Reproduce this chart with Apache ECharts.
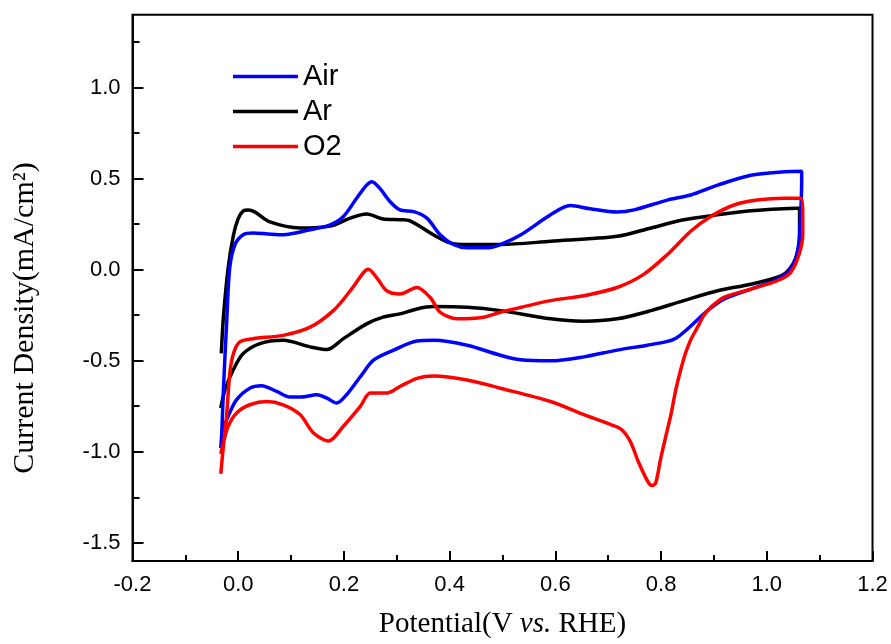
<!DOCTYPE html>
<html>
<head>
<meta charset="utf-8">
<script src="https://cdn.jsdelivr.net/npm/echarts@6/dist/echarts.min.js"></script>
<style>
html,body{margin:0;padding:0;background:#fff;}
#chart{width:891px;height:644px;}
</style>
</head>
<body>
<div id="chart"></div>
<script>
// ---- Data (Potential V vs. RHE, Current density mA/cm2), in scan order ----
const seriesNames = ['Air', 'Ar', 'O2'];

const arPotential = [-0.032,-0.028,-0.019,-0.009,0.000,0.0095,0.019,0.032,0.060,0.117,0.174,0.212,0.243,0.274,0.307,0.325,0.369,0.401,0.433,0.496,0.591,0.717,0.781,0.843,0.907,0.970,1.058,1.062,
  1.062,1.055,1.042,1.027,0.970,0.907,0.843,0.781,0.717,0.653,0.591,0.496,0.433,0.369,0.338,0.306,0.274,0.243,0.199,0.168,0.136,0.085,0.041,0.0095,-0.0095,-0.025,-0.033];
const arCurrent = [-0.46,-0.26,0.01,0.19,0.28,0.323,0.328,0.316,0.262,0.229,0.239,0.283,0.305,0.278,0.274,0.268,0.192,0.147,0.138,0.138,0.156,0.183,0.229,0.274,0.301,0.323,0.337,0.337,
  0.174,0.065,0.0,-0.034,-0.080,-0.116,-0.170,-0.225,-0.270,-0.283,-0.270,-0.225,-0.207,-0.203,-0.216,-0.243,-0.261,-0.298,-0.379,-0.439,-0.424,-0.388,-0.406,-0.461,-0.551,-0.660,-0.760];

const airPotential = [-0.033,-0.031,-0.028,-0.022,-0.016,-0.006,0.0095,0.028,0.056,0.085,0.136,0.174,0.199,0.224,0.243,0.253,0.268,0.287,0.306,0.332,0.357,0.382,0.407,0.433,0.471,0.496,0.534,0.591,0.628,0.666,0.717,0.749,0.812,0.856,0.907,0.970,1.033,1.066,
  1.066,1.064,1.061,1.055,1.042,1.020,0.970,0.919,0.888,0.850,0.829,0.812,0.774,0.717,0.654,0.591,0.534,0.496,0.433,0.370,0.338,0.294,0.256,0.231,0.205,0.186,0.168,0.149,0.117,0.098,0.073,0.044,0.022,-0.003,-0.019,-0.0315];
const airCurrent = [-0.98,-0.89,-0.66,-0.298,0.011,0.138,0.192,0.201,0.196,0.192,0.219,0.246,0.292,0.392,0.464,0.483,0.446,0.374,0.328,0.319,0.283,0.192,0.138,0.120,0.120,0.138,0.190,0.301,0.352,0.334,0.316,0.328,0.382,0.410,0.464,0.518,0.537,0.540,
  0.483,0.301,0.156,0.065,-0.007,-0.053,-0.107,-0.162,-0.225,-0.326,-0.375,-0.394,-0.415,-0.442,-0.479,-0.501,-0.495,-0.470,-0.415,-0.388,-0.392,-0.442,-0.497,-0.588,-0.687,-0.733,-0.706,-0.687,-0.700,-0.700,-0.669,-0.638,-0.651,-0.714,-0.805,-0.896];

const o2Potential = [-0.033,-0.028,-0.022,-0.016,-0.009,0.003,0.028,0.085,0.136,0.180,0.212,0.237,0.246,0.262,0.281,0.306,0.338,0.363,0.382,0.414,0.464,0.496,0.591,0.654,0.717,0.767,0.812,0.856,0.894,0.938,0.982,1.033,1.064,
  1.068,1.068,1.061,1.045,1.020,0.970,0.919,0.894,0.881,0.869,0.856,0.847,0.837,0.828,0.818,0.809,0.799,0.790,0.783,0.775,0.757,0.742,0.725,0.704,0.654,0.591,0.496,0.433,0.370,0.338,0.306,0.281,0.250,0.231,0.199,0.171,0.142,0.117,0.085,0.054,0.022,-0.003,-0.019,-0.028,-0.033];
const o2Current = [-1.121,-0.968,-0.805,-0.570,-0.461,-0.397,-0.379,-0.361,-0.316,-0.225,-0.116,-0.016,0.002,-0.044,-0.116,-0.134,-0.098,-0.152,-0.234,-0.270,-0.261,-0.234,-0.170,-0.143,-0.098,-0.026,0.083,0.211,0.292,0.355,0.382,0.392,0.392,
  0.301,0.192,0.083,-0.016,-0.061,-0.107,-0.152,-0.207,-0.250,-0.316,-0.386,-0.452,-0.551,-0.658,-0.805,-0.914,-1.041,-1.170,-1.186,-1.164,-1.055,-0.945,-0.878,-0.850,-0.796,-0.724,-0.651,-0.606,-0.584,-0.597,-0.642,-0.678,-0.678,-0.751,-0.860,-0.941,-0.896,-0.796,-0.742,-0.724,-0.742,-0.787,-0.860,-0.950,-1.012];

const xTicks = [-0.2, 0.0, 0.2, 0.4, 0.6, 0.8, 1.0, 1.2];
const yTicks = [-1.5, -1.0, -0.5, 0.0, 0.5, 1.0];
const yMinorTicks = [-1.25, -0.75, -0.25, 0.25, 0.75, 1.25];

function zip(a, b) { return a.map((v, i) => [v, b[i]]); }

const chart = echarts.init(document.getElementById('chart'), null, {renderer: 'canvas'});
const sans = 'Liberation Sans';
const serif = 'Liberation Serif';

function mkSeries(name, xs, ys, color) {
  return {
    name: name, type: 'line', data: zip(xs, ys),
    showSymbol: false, symbol: 'none', smooth: 0.3,
    lineStyle: {color: color, width: 3.5},
    itemStyle: {color: color},
    z: 3
  };
}

const option = {
  backgroundColor: '#ffffff',
  animation: false,
  grid: {left: 132.5, right: 18.5, top: 14.7, bottom: 80, show: true, borderColor: '#000', borderWidth: 2, backgroundColor: 'transparent'},
  legend: {
    data: seriesNames, orient: 'vertical', left: 233, top: 62, padding: 0,
    itemWidth: 65, itemHeight: 3.5, itemGap: 6, icon: 'rect',
    textStyle: {fontFamily: sans, fontSize: 29, color: '#000'}
  },
  xAxis: {
    type: 'value', min: xTicks[0], max: xTicks[xTicks.length - 1], interval: 0.2,
    axisLine: {show: true, onZero: false, lineStyle: {color: '#000', width: 2}},
    axisTick: {show: true, inside: true, length: 10, lineStyle: {color: '#000', width: 2}},
    minorTick: {show: true, splitNumber: 2, length: 6, lineStyle: {color: '#000', width: 2}},
    splitLine: {show: false},
    axisLabel: {fontFamily: sans, fontSize: 22, color: '#000', margin: 13, showMinLabel: true, showMaxLabel: true,
      formatter: v => v.toFixed(1)},
    name: '{n|Potential(V }{i|vs.}{n| RHE)}', nameLocation: 'middle', nameGap: 49,
    nameTextStyle: {rich: {
      n: {fontFamily: serif, fontSize: 29, color: '#000'},
      i: {fontFamily: serif, fontSize: 29, color: '#000', fontStyle: 'italic'}
    }}
  },
  yAxis: [{
    type: 'value', min: -1.6, max: 1.4,
    axisLine: {show: true, onZero: false, lineStyle: {color: '#000', width: 2}},
    axisTick: {show: true, inside: true, length: 11, customValues: yTicks, lineStyle: {color: '#000', width: 2}},
    splitLine: {show: false},
    axisLabel: {fontFamily: sans, fontSize: 22, color: '#000', margin: 12, customValues: yTicks,
      formatter: v => v.toFixed(1)}
  }, {
    type: 'value', min: -1.6, max: 1.4, position: 'left', offset: 0,
    axisLine: {show: false, onZero: false},
    axisTick: {show: true, inside: true, length: 7, customValues: yMinorTicks, lineStyle: {color: '#000', width: 2}},
    axisLabel: {show: false},
    splitLine: {show: false}
  }],
  graphic: [{
    type: 'text', x: 25, y: 318, rotation: Math.PI / 2,
    style: {text: 'Current Density(mA/cm²)', font: '30px "Liberation Serif"', fill: '#000', align: 'center', verticalAlign: 'middle'}
  }],
  series: [
    mkSeries('Ar', arPotential, arCurrent, '#000000'),
    mkSeries('Air', airPotential, airCurrent, '#0000ff'),
    mkSeries('O2', o2Potential, o2Current, '#ff0000')
  ]
};
chart.setOption(option);
</script>
</body>
</html>
